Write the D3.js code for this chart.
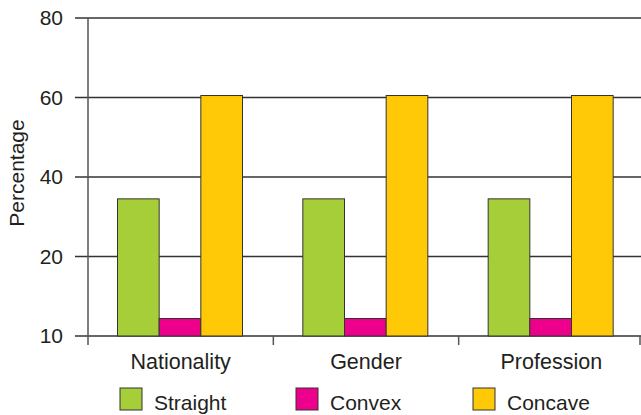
<!DOCTYPE html>
<html>
<head>
<meta charset="utf-8">
<script src="https://cdn.jsdelivr.net/npm/d3@7"></script>
<style>
  body { margin: 0; background: #fff; }
  text { font-family: "Liberation Sans", Arial, sans-serif; fill: #231f20; }
</style>
</head>
<body>
<svg width="641" height="415"></svg>
<script>
var categories = ["Nationality", "Gender", "Profession"];
var seriesNames = ["Straight", "Convex", "Concave"];
var straight = [34.5, 34.5, 34.5];
var convex = [12.2, 12.2, 12.2];
var concave = [60.5, 60.5, 60.5];
var tickValues = [10, 20, 40, 60, 80];
var colors = ["#a6ce39", "#ec008c", "#ffc907"];

var svg = d3.select("svg"),
    width = +svg.attr("width"),
    height = +svg.attr("height");

var plotLeft = 88, plotRight = 644, plotTop = 18, plotBottom = 336;

// the axis is broken: 10 sits where 0 would be, 20..80 are evenly spaced
var y = d3.scaleLinear()
    .domain([10, 20, 80])
    .range([plotBottom, plotBottom - (plotBottom - plotTop) / 4, plotTop]);

var x = d3.scaleBand()
    .domain(categories)
    .range([plotLeft, plotRight]);

var xInner = d3.scaleBand()
    .domain(seriesNames)
    .range([29.5, 154.5]);

var rows = categories.map(function(c, i) {
  return { cat: c, values: [straight[i], convex[i], concave[i]] };
});

// grid lines + y ticks
svg.append("g")
    .selectAll("line")
    .data(tickValues)
    .enter().append("line")
      .attr("x1", plotLeft - 13)
      .attr("x2", width)
      .attr("y1", function(d) { return y(d); })
      .attr("y2", function(d) { return y(d); })
      .attr("stroke", "#333")
      .attr("stroke-width", 1.3);

svg.append("g")
    .selectAll("text")
    .data(tickValues)
    .enter().append("text")
      .attr("x", 63)
      .attr("y", function(d) { return y(d); })
      .attr("dy", "0.34em")
      .attr("text-anchor", "end")
      .style("font-size", "21px")
      .text(function(d) { return d; });

// y axis line
svg.append("line")
    .attr("x1", plotLeft).attr("x2", plotLeft)
    .attr("y1", plotTop).attr("y2", plotBottom + 9)
    .attr("stroke", "#555")
    .attr("stroke-width", 1.5);

// x ticks between categories (and the one at the right edge)
var tickXs = categories.slice(1).map(function(d) { return x(d); });
tickXs.push(Math.min(x.range()[1], width - 1));

svg.append("g")
    .selectAll("line")
    .data(tickXs)
    .enter().append("line")
      .attr("x1", function(d) { return d; })
      .attr("x2", function(d) { return d; })
      .attr("y1", plotBottom)
      .attr("y2", plotBottom + 9)
      .attr("stroke", "#555")
      .attr("stroke-width", 1.5);

// bars
var groups = svg.append("g")
    .selectAll("g")
    .data(rows)
    .enter().append("g")
      .attr("transform", function(d) { return "translate(" + x(d.cat) + ",0)"; });

groups.selectAll("rect")
    .data(function(d) { return d.values.map(function(v, i) { return { name: seriesNames[i], value: v, i: i }; }); })
    .enter().append("rect")
      .attr("x", function(d) { return xInner(d.name); })
      .attr("width", xInner.bandwidth())
      .attr("y", function(d) { return y(d.value); })
      .attr("height", function(d) { return y(10) - y(d.value); })
      .attr("fill", function(d) { return colors[d.i]; })
      .attr("stroke", "#333")
      .attr("stroke-width", 1);

// category labels
svg.append("g")
    .selectAll("text")
    .data(categories)
    .enter().append("text")
      .attr("x", function(d) { return x(d) + x.bandwidth() / 2; })
      .attr("y", 369)
      .attr("text-anchor", "middle")
      .style("font-size", "21.5px")
      .text(function(d) { return d; });

// y title
svg.append("text")
    .attr("transform", "translate(24,173) rotate(-90)")
    .attr("text-anchor", "middle")
    .style("font-size", "21px")
    .text("Percentage");

// legend
var legendX = [120, 296, 473];
var legend = svg.append("g")
    .selectAll("g")
    .data(seriesNames)
    .enter().append("g")
      .attr("transform", function(d, i) { return "translate(" + legendX[i] + ",388)"; });

legend.append("rect")
    .attr("width", 22)
    .attr("height", 22)
    .attr("fill", function(d, i) { return colors[i]; })
    .attr("stroke", "#333")
    .attr("stroke-width", 1);

legend.append("text")
    .attr("x", 34)
    .attr("y", 22)
    .style("font-size", "21px")
    .text(function(d) { return d; });
</script>
</body>
</html>
